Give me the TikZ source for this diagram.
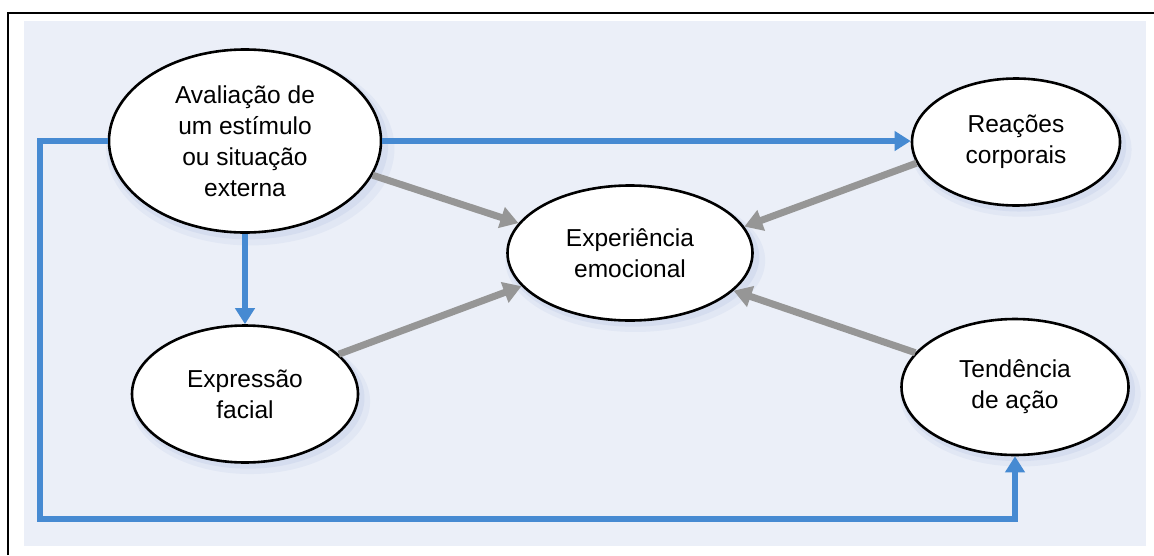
\documentclass[tikz,border=0pt]{standalone}
\usepackage{fontspec}
\setmainfont{Liberation Sans}
\usetikzlibrary{shapes.geometric,arrows.meta,shadows}
\definecolor{panel}{RGB}{235,239,248}
\definecolor{flow}{RGB}{70,138,210}
\definecolor{link}{RGB}{150,150,150}
\definecolor{halo}{RGB}{140,162,212}

\begin{document}
\begin{tikzpicture}[x=1pt,y=-1pt,
  bubble/.style={ellipse, draw=black, line width=2.6pt, fill=white,
    inner sep=0pt, align=center, text=black,
    font=\fontsize{24.5}{31}\selectfont,
    general shadow={fill=halo, opacity=.10, shadow xshift=5pt, shadow yshift=-7pt, shadow scale=1.06},
    general shadow={fill=halo, opacity=.14, shadow xshift=3pt, shadow yshift=-4pt, shadow scale=1.03}},
  flowline/.style={draw=flow, line width=6pt, -{Triangle[length=16pt,width=19pt]}},
  linkline/.style={draw=link, line width=7pt, -{Triangle[length=18pt,width=21pt]}}]

% page and background panel
\useasboundingbox (0,0) rectangle (1154,555);
\fill[white] (0,0) rectangle (1154,555);
\fill[panel] (24,21) rectangle (1146,546);
\draw[line width=2pt] (8,555) -- (8,13) -- (1154,13);

% the five components
\node[bubble, minimum width=272pt, minimum height=183pt] (aval) at (245,141)
  {Avaliação de\\um estímulo\\ou situação\\externa};
\node[bubble, minimum width=245pt, minimum height=135pt] (exp) at (630,253)
  {Experiência\\emocional};
\node[bubble, minimum width=208pt, minimum height=127pt] (reac) at (1016,142)
  {Reações\\corporais};
\node[bubble, minimum width=226pt, minimum height=137pt] (expr) at (245,394)
  {Expressão\\facial};
\node[bubble, minimum width=227pt, minimum height=136pt] (tend) at (1015,387)
  {Tendência\\de ação};

% blue routes from the appraisal
\coordinate (loop) at (40,519);
\draw[flowline] (aval.west) -- (aval.west -| loop) -- (loop)
  -- (loop -| tend.south) -- (tend.south);
\draw[flowline] (aval.east) -- (aval.east -| reac.west);
\draw[flowline] (aval.south) -- (expr.north);

% grey links into the emotional experience
\draw[linkline] (aval.-15) -- (exp.165);
\draw[linkline] (expr.23) -- (exp.197);
\draw[linkline] (reac.192) -- (exp.13);
\draw[linkline] (tend.161) -- (exp.-20);
\end{tikzpicture}
\end{document}
